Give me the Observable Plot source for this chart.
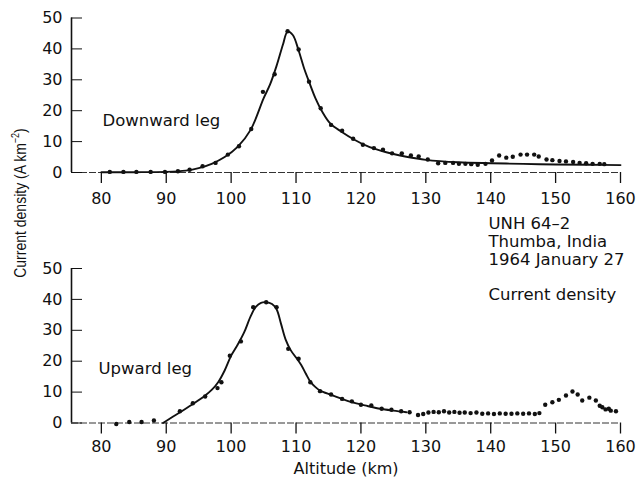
<!DOCTYPE html>
<html>
<head>
<meta charset="utf-8">
<script src="https://cdn.jsdelivr.net/npm/d3@7"></script>
<script src="https://cdn.jsdelivr.net/npm/@observablehq/plot@0.6"></script>
<style>
  body { margin: 0; background: #fff; }
  #chart { position: relative; width: 639px; height: 480px; background: #fff; color: #111; font-family: "DejaVu Sans", sans-serif; }
  #down { position: absolute; left: 0; top: 0; }
  #up { position: absolute; left: 0; top: 215px; }
  #ylabel {
    position: absolute; left: 20px; top: 203px; white-space: nowrap;
    font-family: "Liberation Sans", sans-serif; font-size: 14px; line-height: 1;
    transform: translate(-50%, -50%) rotate(-90deg) scaleY(1.2);
  }
  #ylabel sup { font-size: 9px; vertical-align: 6px; line-height: 0; }
</style>
</head>
<body>
<div id="chart">
  <div id="down"></div>
  <div id="up"></div>
  <div id="ylabel">Current density (A km<sup>−2</sup>)</div>
</div>
<script>
// Axis ticks
const altitudeTicks = [80, 90, 100, 110, 120, 130, 140, 150, 160];
const densityTicks = [0, 10, 20, 30, 40, 50];
const altitudeDomain = [75.4, 160];

// Downward leg: measured current density (A km^-2) vs altitude (km)
const downAltitude = [81.3, 83.4, 85.4, 87.6, 89.8, 91.8, 93.6, 95.6, 97.6, 99.5, 101.2, 103.1, 104.9, 106.7, 108.7,
  110.4, 112.0, 113.8, 115.4, 117.1, 118.8, 120.3, 122.0, 123.4, 124.8, 126.3, 127.7, 128.9, 130.3, 131.9, 133.0,
  134.2, 135.1, 136.1, 137.0, 138.0, 139.2, 140.2, 141.3, 142.4, 143.4, 144.6, 145.6, 146.7, 147.4, 148.6, 149.5,
  150.6, 151.6, 152.7, 153.7, 154.7, 155.7, 156.8, 157.5];
const downDensity = [0.2, 0.2, 0.2, 0.2, 0.2, 0.4, 0.9, 2.0, 3.1, 5.8, 8.5, 14.1, 26.1, 31.8, 45.7,
  39.8, 29.4, 20.8, 15.4, 13.5, 10.9, 9.0, 7.9, 7.4, 6.2, 6.2, 5.5, 5.2, 4.2, 3.0, 3.1,
  3.1, 2.8, 2.8, 2.7, 2.5, 2.8, 3.9, 5.5, 4.8, 5.1, 5.8, 5.8, 5.8, 5.2, 4.2, 4.0,
  3.7, 3.6, 3.4, 3.1, 3.0, 2.8, 2.8, 2.7];

// Downward leg: smooth fitted profile
const downFitAltitude = [80, 85, 90, 93, 95, 97, 99, 101, 103, 105, 106, 107, 108, 108.7, 109.5, 110.4, 111.2, 112,
  113, 114, 115.3, 117, 119, 121, 123, 125, 127, 130, 135, 140, 145, 150, 155, 160];
const downFitDensity = [0.1, 0.1, 0.2, 0.6, 1.4, 2.8, 5.0, 8.3, 13.8, 24.0, 28.5, 34.5, 41.5, 45.6, 44.5, 39.5, 34.0, 29.4,
  24.0, 19.8, 15.8, 13.2, 10.6, 8.5, 7.1, 6.0, 5.1, 4.1, 3.3, 3.0, 2.8, 2.6, 2.5, 2.4];

// Upward leg: measured current density vs altitude
const upAltitude = [82.3, 84.3, 86.2, 88.1, 92.1, 94.1, 96.0, 97.9, 98.5, 99.8, 101.5, 103.4, 105.4, 107.0, 108.8,
  110.4, 112.2, 113.7, 115.4, 117.1, 118.6, 120.0, 121.6, 123.2, 124.7, 126.2, 127.5, 128.8, 129.6, 130.4, 131.2,
  132.0, 132.8, 133.6, 134.4, 135.2, 136.0, 136.9, 137.8, 138.7, 139.6, 140.5, 141.4, 142.3, 143.2, 144.1, 145.0,
  145.9, 146.8, 147.5, 148.4, 149.5, 150.5, 151.6, 152.6, 153.4, 154.1, 155.2, 156.2, 156.8, 157.2, 157.7, 158.2,
  158.5, 159.3];
const upDensity = [-0.3, 0.3, 0.3, 0.8, 3.8, 6.4, 8.6, 11.3, 13.2, 21.8, 26.4, 37.5, 39.1, 37.5, 24.0,
  20.8, 13.2, 10.3, 9.2, 7.8, 7.0, 5.9, 5.7, 4.6, 4.3, 3.8, 3.5, 2.6, 2.9, 3.4, 3.6,
  3.5, 3.8, 3.4, 3.6, 3.3, 3.4, 3.2, 3.4, 3.0, 3.1, 2.9, 3.1, 3.0, 3.0, 3.1, 3.0,
  3.1, 2.9, 3.2, 5.9, 6.7, 7.5, 8.9, 10.2, 9.2, 7.3, 8.2, 7.3, 5.6, 5.1, 4.4, 4.6,
  4.0, 3.8];

// Upward leg: smooth fitted profile
const upFitAltitude = [89.5, 91, 92, 94, 96, 97, 98, 99, 100, 101, 102, 103, 103.8, 104.6, 105.4, 106.3, 107,
  107.7, 108.4, 109.2, 110, 110.8, 111.5, 112.2, 113, 113.7, 115.4, 117.1, 119, 121, 123, 125, 127];
const upFitDensity = [0, 2.0, 3.3, 6.0, 8.9, 10.7, 13.2, 17.0, 21.8, 25.3, 29.3, 34.5, 37.6, 38.9, 39.1, 38.5, 36.8,
  32.0, 27.0, 23.5, 21.2, 18.8, 16.0, 13.4, 11.6, 10.5, 9.1, 7.8, 6.5, 5.5, 4.6, 4.0, 3.5];

const ink = "#111";

function panel({alt, dens, fitAlt, fitDens, height, marginTop, marginBottom, tickPadding, axisLabel, notes}) {
  const points = alt.map((a, i) => ({altitude: a, density: dens[i]}));
  const fit = fitAlt.map((a, i) => ({altitude: a, density: fitDens[i]}));
  return Plot.plot({
    width: 639,
    height,
    marginLeft: 71,
    marginRight: 19,
    marginTop,
    marginBottom,
    style: {fontFamily: "DejaVu Sans, sans-serif", fontSize: "16px", color: ink, background: "transparent", overflow: "visible"},
    x: {domain: altitudeDomain, axis: null},
    y: {domain: [0, 50], axis: null},
    marks: [
      Plot.ruleY([0], {stroke: "#333", strokeWidth: 1, strokeDasharray: "7,2"}),
      Plot.ruleX([altitudeDomain[0]], {stroke: ink, strokeWidth: 1.6}),
      Plot.axisX(altitudeTicks, {
        tickSize: 11, tickPadding, fontSize: 16, stroke: ink, strokeWidth: 1.3,
        label: axisLabel, labelAnchor: "center", labelArrow: "none", labelOffset: 51
      }),
      Plot.axisY(densityTicks, {tickSize: -11, tickPadding: 20, fontSize: 16, stroke: ink, label: null}),
      Plot.line(fit, {x: "altitude", y: "density", curve: "catmull-rom", stroke: ink, strokeWidth: 1.9}),
      Plot.dot(points, {x: "altitude", y: "density", r: 2.2, fill: ink}),
      ...notes.map(n => Plot.text([n.text], {
        frameAnchor: "top-left", dx: n.dx, dy: n.dy, textAnchor: "start", lineAnchor: "top",
        lineHeight: 1.08, fontSize: 16.5, fill: ink
      }))
    ]
  });
}

document.getElementById("down").append(panel({
  alt: downAltitude, dens: downDensity, fitAlt: downFitAltitude, fitDens: downFitDensity,
  height: 215, marginTop: 17.5, marginBottom: 43, tickPadding: 9, axisLabel: null,
  notes: [{text: "Downward leg", dx: 31, dy: 95}]
}));

document.getElementById("up").append(panel({
  alt: upAltitude, dens: upDensity, fitAlt: upFitAltitude, fitDens: upFitDensity,
  height: 265, marginTop: 53, marginBottom: 57.5, tickPadding: 7, axisLabel: "Altitude (km)",
  notes: [
    {text: "Upward leg", dx: 27, dy: 93},
    {text: "UNH 64–2\nThumba, India\n1964 January 27\n\nCurrent density", dx: 417, dy: -52}
  ]
}));
</script>
</body>
</html>
